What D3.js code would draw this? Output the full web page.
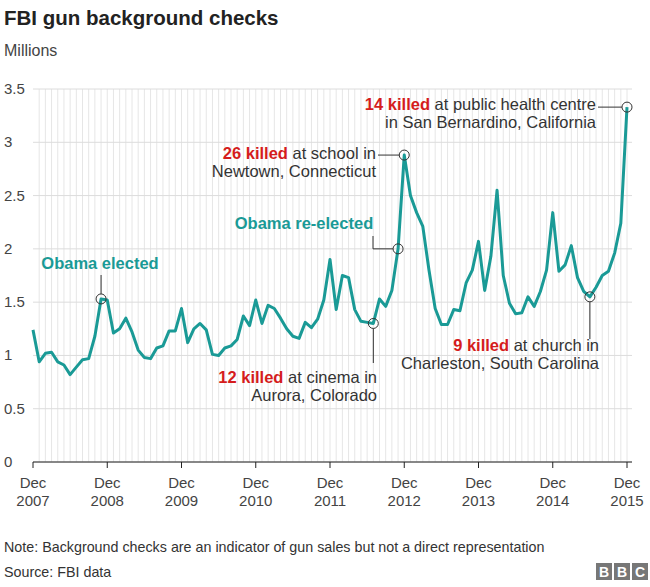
<!DOCTYPE html>
<html><head><meta charset="utf-8">
<script src="https://cdn.jsdelivr.net/npm/d3@7"></script>
<style>body{margin:0;background:#fff;font-family:Arial,"Liberation Sans",sans-serif}</style>
</head><body><svg id="c" width="650" height="587"></svg>
<script>
const years = [2007, 2008, 2009, 2010, 2011, 2012, 2013, 2014, 2015];
const checks = [1.24,
  0.94,1.02,1.03,0.94,0.91,0.82,0.89,0.96,0.97,1.18,1.53,1.52,
  1.21,1.25,1.35,1.22,1.05,0.98,0.97,1.07,1.09,1.23,1.23,1.44,
  1.12,1.25,1.30,1.24,1.01,1.00,1.07,1.09,1.15,1.37,1.28,1.52,
  1.30,1.47,1.44,1.35,1.25,1.18,1.16,1.31,1.26,1.34,1.52,1.90,
  1.43,1.75,1.73,1.43,1.32,1.31,1.30,1.53,1.46,1.61,2.00,2.88,
  2.50,2.34,2.21,1.80,1.44,1.29,1.29,1.43,1.42,1.68,1.80,2.07,
  1.61,1.93,2.55,1.75,1.49,1.39,1.40,1.55,1.46,1.60,1.80,2.34,
  1.79,1.85,2.03,1.73,1.60,1.55,1.64,1.75,1.79,1.96,2.24,3.33];
const yTicks = [0, 0.5, 1, 1.5, 2, 2.5, 3, 3.5];
const yTickLabels = ["0", "0.5", "1", "1.5", "2", "2.5", "3", "3.5"];

const svg = d3.select("#c");
const x = d3.scaleLinear().domain([0, 96]).range([33, 627]);
const y = d3.scaleLinear().domain([0, 3.5]).range([462, 89]);
const teal = "#1a9a96", red = "#d51c1c", grey = "#333";

svg.append("text").attr("x", 4).attr("y", 25).attr("font-size", 20.5).attr("font-weight", "bold").attr("fill", "#222").text("FBI gun background checks");
svg.append("text").attr("x", 4).attr("y", 56).attr("font-size", 16).attr("fill", "#444").text("Millions");

// vertical month grid
svg.append("g").selectAll("line").data(d3.range(1, 97)).join("line")
  .attr("x1", d => x(d)).attr("x2", d => x(d)).attr("y1", y(3.5)).attr("y2", y(0))
  .attr("stroke", "#e6e6e6");
// horizontal grid
svg.append("g").selectAll("line").data(yTicks).join("line")
  .attr("x1", 33).attr("x2", 632).attr("y1", d => y(d)).attr("y2", d => y(d))
  .attr("stroke", "#dcdcdc");
svg.append("g").selectAll("text").data(yTicks).join("text")
  .attr("x", 4).attr("y", d => y(d) + 5).attr("font-size", 15).attr("fill", "#444")
  .text((d, i) => yTickLabels[i]);

// x axis
svg.append("line").attr("x1", 33).attr("x2", 632).attr("y1", y(0)).attr("y2", y(0)).attr("stroke", "#222");
const xt = svg.append("g").selectAll("g").data(years).join("g")
  .attr("transform", (d, i) => `translate(${x(i * 12)},${y(0)})`);
xt.append("line").attr("y2", 6).attr("stroke", "#222");
xt.append("text").attr("y", 26).attr("text-anchor", "middle").attr("font-size", 15).attr("fill", "#444").text("Dec");
xt.append("text").attr("y", 44).attr("text-anchor", "middle").attr("font-size", 15).attr("fill", "#444").text(d => d);

// line
svg.append("path").datum(checks)
  .attr("d", d3.line().x((d, i) => x(i)).y(d => y(d)))
  .attr("fill", "none").attr("stroke", teal).attr("stroke-width", 3).attr("stroke-linejoin", "round");

// annotations
function marker(i) {
  svg.append("circle").attr("cx", x(i)).attr("cy", y(checks[i])).attr("r", 5)
    .attr("fill", "none").attr("stroke", grey).attr("stroke-width", 1);
}
function leader(pts) {
  svg.append("path").attr("d", d3.line()(pts)).attr("fill", "none").attr("stroke", grey);
}
function txt(xp, yp, anchor, parts) {
  const t = svg.append("text").attr("x", xp).attr("y", yp).attr("text-anchor", anchor).attr("font-size", 16.5);
  parts.forEach(p => t.append("tspan").attr("fill", p[1]).attr("font-weight", p[2] ? "bold" : null).text(p[0]));
}
// Obama elected
marker(11);
leader([[x(11), y(checks[11]) - 5], [x(11), 275]]);
txt(100, 269, "middle", [["Obama elected", teal, true]]);
// Obama re-elected
marker(59);
leader([[x(59) - 5, y(2)], [373, y(2)], [373, 236]]);
txt(304, 229, "middle", [["Obama re-elected", teal, true]]);
// Aurora
marker(55);
leader([[x(55), y(checks[55]) + 5], [x(55), 363]]);
txt(377, 383, "end", [["12 killed", red, true], [" at cinema in", "#333"]]);
txt(377, 401, "end", [["Aurora, Colorado", "#333"]]);
// Newtown
marker(60);
leader([[x(60) - 5, y(checks[60])], [378, y(checks[60])]]);
txt(376, 159, "end", [["26 killed", red, true], [" at school in", "#333"]]);
txt(376, 177, "end", [["Newtown, Connecticut", "#333"]]);
// Charleston
marker(90);
leader([[x(90), y(checks[90]) + 5], [x(90), 339]]);
txt(599, 351, "end", [["9 killed", red, true], [" at church in", "#333"]]);
txt(599, 369, "end", [["Charleston, South Carolina", "#333"]]);
// San Bernardino
marker(96);
leader([[x(96) - 5, y(checks[96])], [598, y(checks[96])]]);
txt(596, 110, "end", [["14 killed", red, true], [" at public health centre", "#333"]]);
txt(596, 128, "end", [["in San Bernardino, California", "#333"]]);

// footer
svg.append("text").attr("x", 4).attr("y", 552).attr("font-size", 14.3).attr("fill", "#333")
  .text("Note: Background checks are an indicator of gun sales but not a direct representation");
svg.append("text").attr("x", 4).attr("y", 577).attr("font-size", 14.3).attr("fill", "#333").text("Source: FBI data");
const bbc = svg.append("g").attr("transform", "translate(596,563)");
["B", "B", "C"].forEach((l, i) => {
  bbc.append("rect").attr("x", i * 18).attr("width", 16).attr("height", 17).attr("fill", "#777");
  bbc.append("text").attr("x", i * 18 + 8).attr("y", 14).attr("text-anchor", "middle").attr("font-size", 14)
    .attr("font-weight", "bold").attr("fill", "#fff").text(l);
});
</script></body></html>
